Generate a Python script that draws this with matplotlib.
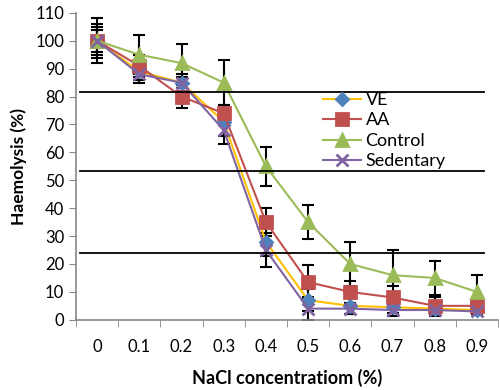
import numpy as np
import matplotlib.pyplot as plt

plt.rcParams['font.family'] = ['Lato', 'DejaVu Sans']

nacl = ['0', '0.1', '0.2', '0.3', '0.4', '0.5', '0.6', '0.7', '0.8', '0.9']

ve        = [100, 89, 85, 71, 28, 7, 5, 4.5, 4, 3.5]
aa        = [100, 91, 80, 74, 35, 13.5, 10, 8, 5, 5]
control   = [100, 95, 92, 85, 55, 35, 20, 16, 15, 10]
sedentary = [100, 88, 85, 68, 25, 4, 4, 3.5, 3.5, 3]

ve_err        = [5, 3, 3, 5, 5, 4, 3, 2, 2, 1]
aa_err        = [6, 4, 4, 3, 5, 6, 4, 4, 3, 2]
control_err   = [8, 7, 7, 8, 7, 6, 8, 9, 6, 6]
sedentary_err = [4, 3, 2, 5, 6, 4, 2, 2, 2, 1]

ref_lines = [81.7, 53.4, 24]

series = [
    ('VE',        ve,        ve_err,        '#FFC000', '#4F81BD', 'D', 6),
    ('AA',        aa,        aa_err,        '#C0504D', '#C0504D', 's', 8),
    ('Control',   control,   control_err,   '#9BBB59', '#9BBB59', '^', 8),
    ('Sedentary', sedentary, sedentary_err, '#8064A2', '#8064A2', 'x', 8),
]

fig = plt.figure(figsize=(5, 3.9), dpi=100)
ax = fig.add_axes([0.152, 0.18, 0.844, 0.787])

x = np.arange(len(nacl))
for name, vals, err, lc, mc, mk, ms in series:
    ax.errorbar(x, vals, yerr=err, fmt='none', ecolor='black',
                elinewidth=1.5, capsize=4, capthick=1.5, zorder=2)
for name, vals, err, lc, mc, mk, ms in series:
    ax.plot(x, vals, color=lc, lw=1.5, marker=mk, markersize=ms,
            markerfacecolor=mc, markeredgecolor=mc, markeredgewidth=2,
            label=name, zorder=3)

for y in ref_lines:
    ax.axhline(y, xmin=0.01, xmax=0.967, color='black', lw=1.3, zorder=4)

ax.set_xlim(-0.5, len(nacl) - 0.5)
ax.set_ylim(0, 110)
ax.set_yticks(np.arange(0, 111, 10))
ax.set_xticks(x)
ax.set_xticklabels(nacl)
ax.set_xticks(np.arange(-0.5, len(nacl)), minor=True)
ax.tick_params(axis='x', which='major', length=0, pad=14, labelsize=12)
ax.tick_params(axis='x', which='minor', length=5, color='#888888', direction='out')
ax.tick_params(axis='y', length=5, color='#888888', labelsize=12)

for s in ['top', 'right']:
    ax.spines[s].set_visible(False)
for s in ['left', 'bottom']:
    ax.spines[s].set_color('#888888')
    ax.spines[s].set_linewidth(1.2)

ax.set_xlabel('NaCl concentratiom (%)', fontsize=13, fontweight='bold', labelpad=10)
ax.set_ylabel('Haemolysis (%)', fontsize=12.5, fontweight='bold', labelpad=6)

ax.legend(loc='upper left', bbox_to_anchor=(0.564, 0.772), frameon=False,
          fontsize=13, handlelength=2.1, labelspacing=0.25, borderpad=0,
          handletextpad=0.25)

fig.savefig('out.png', dpi=100)
